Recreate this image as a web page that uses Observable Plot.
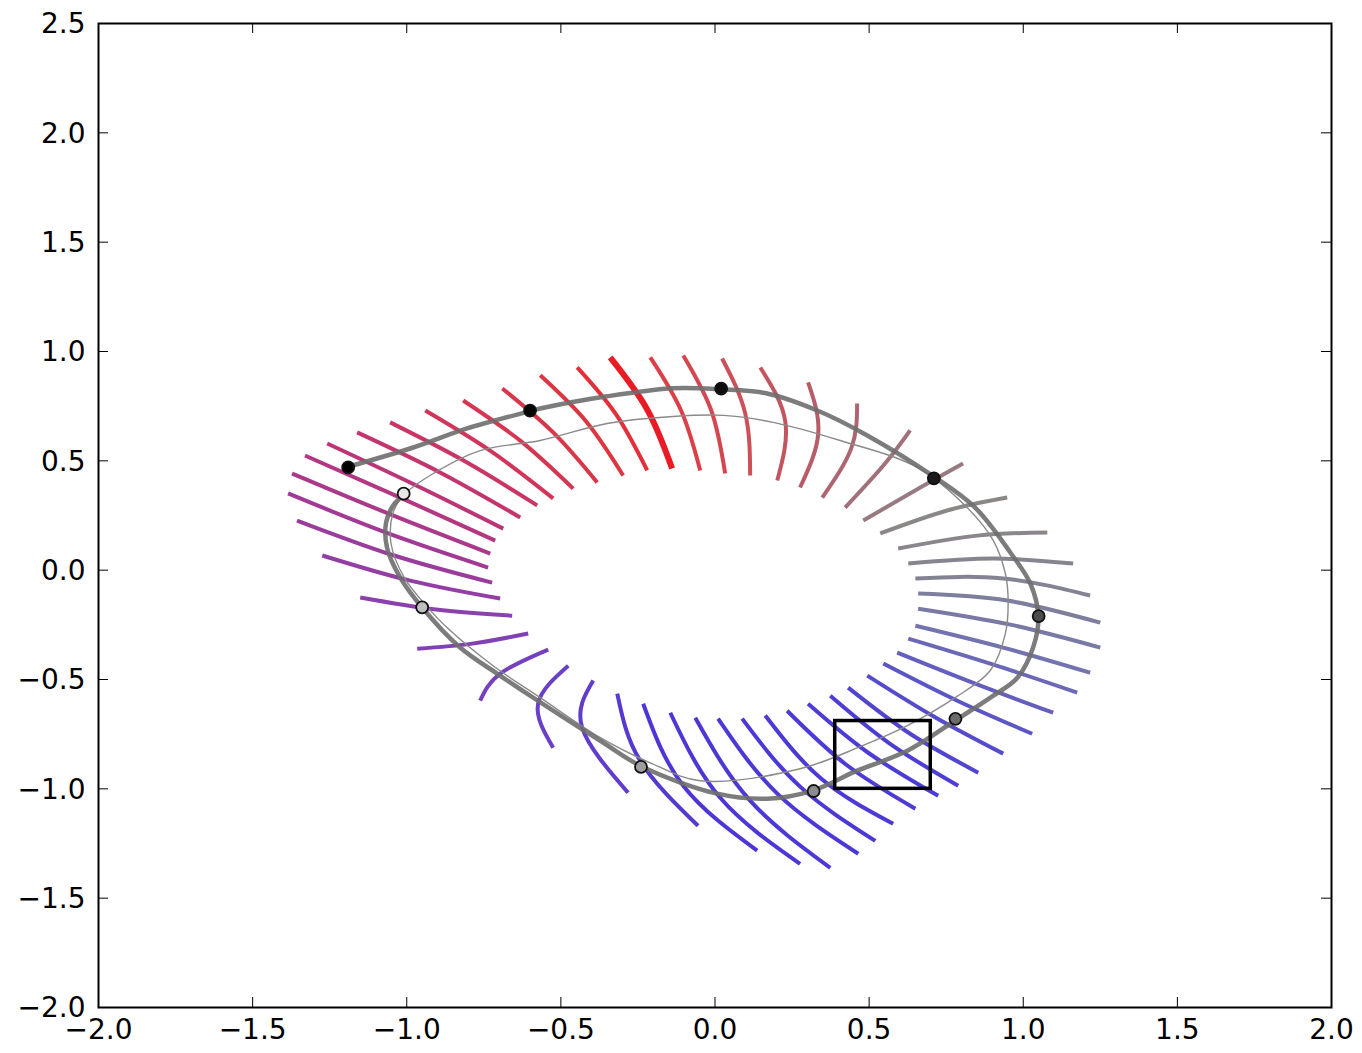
<!DOCTYPE html>
<html><head><meta charset="utf-8">
<script src="https://cdn.jsdelivr.net/npm/d3@7"></script>
<script src="https://cdn.jsdelivr.net/npm/@observablehq/plot@0.6"></script>
<style>body{margin:0;background:#fff;}</style>
</head><body><div id="chart"></div>
<script>
// ---- tick values ----
const xTicks = [-2, -1.5, -1, -0.5, 0, 0.5, 1, 1.5, 2];
const yTicks = [-2, -1.5, -1, -0.5, 0, 0.5, 1, 1.5, 2, 2.5];

// ---- isochron segments: outer end, middle, inner end (data coords) ----
const isoOuterX = [-0.340,-0.447,-0.567,-0.690,-0.817,-0.940,-1.054,-1.161,-1.258,-1.330,-1.372,-1.385,-1.356,-1.274,-1.151,-0.966,-0.762,-0.525,-0.282,-0.055,0.137,0.276,0.374,0.465,0.520,0.578,0.650,0.724,0.789,0.854,0.935,1.029,1.097,1.175,1.217,1.250,1.250,1.217,1.162,1.078,0.948,0.805,0.633,0.461,0.302,0.147,0.023,-0.103,-0.210];
const isoOuterY = [0.973,0.927,0.891,0.831,0.776,0.730,0.676,0.630,0.579,0.524,0.442,0.351,0.227,0.067,-0.125,-0.359,-0.597,-0.812,-1.018,-1.169,-1.283,-1.343,-1.361,-1.297,-1.238,-1.160,-1.091,-1.032,-0.986,-0.926,-0.839,-0.748,-0.652,-0.560,-0.469,-0.354,-0.240,-0.116,0.030,0.172,0.332,0.488,0.639,0.762,0.859,0.927,0.968,0.982,0.973];
const isoMidX = [-0.220,-0.321,-0.418,-0.525,-0.629,-0.726,-0.810,-0.892,-0.969,-1.021,-1.051,-1.060,-1.041,-0.989,-0.905,-0.788,-0.697,-0.574,-0.431,-0.243,-0.103,0.017,0.114,0.202,0.276,0.345,0.426,0.497,0.568,0.633,0.711,0.786,0.844,0.903,0.935,0.958,0.948,0.935,0.903,0.851,0.753,0.666,0.549,0.442,0.335,0.228,0.098,-0.012,-0.110];
const isoMidY = [0.735,0.712,0.680,0.630,0.589,0.543,0.497,0.447,0.387,0.332,0.254,0.168,0.067,-0.048,-0.180,-0.336,-0.473,-0.611,-0.720,-0.871,-0.986,-1.041,-1.054,-1.022,-0.990,-0.954,-0.890,-0.835,-0.794,-0.748,-0.670,-0.597,-0.519,-0.432,-0.354,-0.249,-0.139,-0.038,0.053,0.158,0.273,0.378,0.483,0.557,0.625,0.680,0.717,0.730,0.730];
const isoInnerX = [-0.139,-0.220,-0.298,-0.382,-0.460,-0.525,-0.577,-0.632,-0.687,-0.713,-0.729,-0.736,-0.723,-0.697,-0.658,-0.606,-0.541,-0.476,-0.395,-0.317,-0.233,-0.145,-0.064,0.010,0.088,0.163,0.234,0.302,0.374,0.432,0.494,0.546,0.591,0.627,0.650,0.659,0.659,0.650,0.627,0.594,0.536,0.481,0.422,0.348,0.276,0.202,0.114,0.033,-0.048];
const isoInnerY = [0.465,0.456,0.433,0.401,0.373,0.328,0.296,0.241,0.190,0.135,0.076,0.012,-0.057,-0.130,-0.208,-0.290,-0.363,-0.437,-0.505,-0.565,-0.611,-0.652,-0.675,-0.679,-0.679,-0.665,-0.643,-0.611,-0.574,-0.537,-0.482,-0.427,-0.377,-0.313,-0.254,-0.176,-0.107,-0.038,0.030,0.099,0.168,0.227,0.286,0.332,0.378,0.410,0.433,0.442,0.456];

// phase colour key (by isochron index)
const phaseStops  = [0, 2, 5, 8, 11, 14, 17, 20, 28, 31, 34, 37, 40, 42, 44, 46, 48];
const phaseColors = ["#e8101a","#d8202c","#cc2048","#b42068","#982488","#7e2ca4","#5a2cc0","#3820d0","#3828d0","#4a42c0","#6464a6","#767688","#807a7a","#98606c","#b04a56","#c83c46","#d82a34"];

// ---- thick trajectory (spiralling onto the cycle) ----
const trajX = [-1.187,-0.979,-0.804,-0.603,-0.567,-0.350,-0.136,0.017,0.169,0.332,0.494,0.714,0.844,0.958,1.023,1.049,1.032,0.981,0.903,0.783,0.624,0.461,0.315,0.169,0.007,-0.236,-0.372,-0.590,-0.707,-0.827,-0.950,-1.021,-1.064,-1.067,-1.044,-1.008];
const trajY = [0.474,0.561,0.648,0.726,0.739,0.795,0.832,0.827,0.808,0.730,0.616,0.424,0.286,0.081,-0.061,-0.212,-0.354,-0.492,-0.574,-0.684,-0.826,-0.917,-1.009,-1.045,-1.022,-0.899,-0.780,-0.583,-0.473,-0.354,-0.171,-0.034,0.103,0.218,0.296,0.346];

// ---- thin closed cycle ----
const cycleX = [-1.008,-0.914,-0.762,-0.567,-0.350,-0.136,0.027,0.189,0.406,0.656,0.818,0.903,0.942,0.951,0.942,0.893,0.779,0.624,0.471,0.276,-0.048,-0.210,-0.372,-0.567,-0.720,-0.866,-0.937,-1.008,-1.051,-1.044];
const cycleY = [0.346,0.442,0.547,0.593,0.671,0.703,0.708,0.676,0.593,0.470,0.286,0.135,-0.016,-0.139,-0.290,-0.459,-0.583,-0.711,-0.807,-0.908,-0.963,-0.881,-0.766,-0.583,-0.437,-0.267,-0.162,-0.034,0.122,0.264];

// ---- marked points on the trajectory, shade 0 = black, 1 = white ----
const dotX = [-1.19,-0.60,0.02,0.71,1.05,0.78,0.32,-0.24,-0.95,-1.01];
const dotY = [0.47,0.73,0.83,0.42,-0.21,-0.68,-1.01,-0.90,-0.17,0.35];
const dotShade = [0.0,0.02,0.05,0.1,0.3,0.42,0.55,0.62,0.75,0.9];

// ---- zoom box ----
const boxX = [0.39, 0.70];
const boxY = [-1.0, -0.69];

// ---- build tables ----
const isoRows = isoOuterX.flatMap((_, i) => [
  {id: i, x: isoOuterX[i], y: isoOuterY[i]},
  {id: i, x: isoMidX[i],   y: isoMidY[i]},
  {id: i, x: isoInnerX[i], y: isoInnerY[i]}
]);
const traj = trajX.map((x, i) => ({x, y: trajY[i]}));
const cycle = cycleX.map((x, i) => ({x, y: cycleY[i]}));
const dots = dotX.map((x, i) => ({x, y: dotY[i], s: dotShade[i]}));

const W = 1362, H = 1053, mL = 98, mR = 31, mT = 23, mB = 46;
const fw = W - mL - mR, fh = H - mT - mB, tl = 10;
const fmt = d3.format(".1f");

const chart = Plot.plot({
  width: W, height: H,
  marginLeft: mL, marginRight: mR, marginTop: mT, marginBottom: mB,
  x: {domain: [-2, 2]},
  y: {domain: [-2, 2.5]},
  color: {type: "linear", domain: phaseStops, range: phaseColors, interpolate: "rgb"},
  style: {background: "white", fontFamily: "DejaVu Sans", fontSize: "28px", color: "black"},
  marks: [
    Plot.line(isoRows.filter(d => d.id !== 0), {x: "x", y: "y", z: "id", stroke: "id", curve: "natural", strokeWidth: 4, strokeOpacity: 0.9, strokeLinecap: "butt"}),
    Plot.line(isoRows.filter(d => d.id === 0), {x: "x", y: "y", z: "id", stroke: "id", curve: "natural", strokeWidth: 6, strokeOpacity: 0.95, strokeLinecap: "butt"}),
    Plot.line(cycle, {x: "x", y: "y", curve: "catmull-rom-closed", stroke: "#8a8a8a", strokeWidth: 1.4}),
    Plot.line(traj, {x: "x", y: "y", curve: "catmull-rom", stroke: "#6e6e6e", strokeWidth: 4.5, strokeOpacity: 0.9}),
    Plot.rect([{x1: boxX[0], x2: boxX[1], y1: boxY[0], y2: boxY[1]}], {x1: "x1", x2: "x2", y1: "y1", y2: "y2", fill: "none", stroke: "black", strokeWidth: 3.5}),
    Plot.dot(dots, {x: "x", y: "y", r: 6, fill: d => d3.interpolateRgb("#000000", "#ffffff")(d.s), stroke: "#111", strokeWidth: 1.8}),
    // inward ticks on all four sides
    Plot.ruleX(xTicks, {x: d => d, insetTop: fh - tl, stroke: "black", strokeWidth: 1}),
    Plot.ruleX(xTicks, {x: d => d, insetBottom: fh - tl, stroke: "black", strokeWidth: 1}),
    Plot.ruleY(yTicks, {y: d => d, insetRight: fw - tl, stroke: "black", strokeWidth: 1}),
    Plot.ruleY(yTicks, {y: d => d, insetLeft: fw - tl, stroke: "black", strokeWidth: 1}),
    Plot.frame({stroke: "black", strokeWidth: 2}),
    Plot.axisX({ticks: xTicks, tickSize: 0, tickPadding: 12, tickFormat: fmt, label: null, fontSize: 28, fill: "black"}),
    Plot.axisY({ticks: yTicks, tickSize: 0, tickPadding: 13, tickFormat: fmt, label: null, fontSize: 28, dy: 1, fill: "black"})
  ]
});
document.getElementById("chart").appendChild(chart);
</script></body></html>
